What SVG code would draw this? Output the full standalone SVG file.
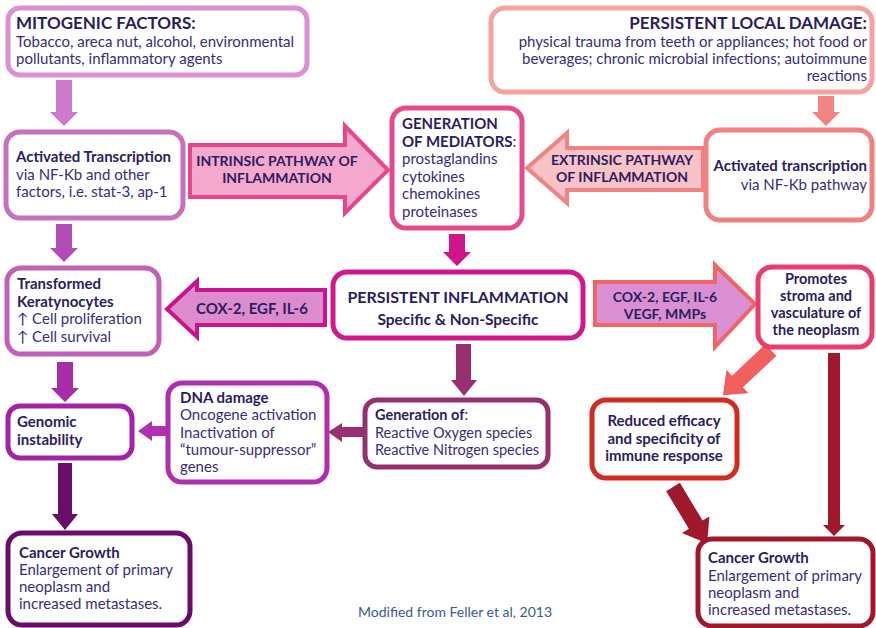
<svg xmlns="http://www.w3.org/2000/svg" width="876" height="628" viewBox="0 0 876 628">
<style>
text{font-family:Lato,"Liberation Sans",sans-serif;fill:#3a2c7a;font-size:15px}
.b{font-weight:bold;fill:#2c1c60}
.h{font-size:17px}
.box{fill:#fff;stroke-width:5}
.c{text-anchor:middle}
.e{text-anchor:end}
.lbl{font-weight:bold;fill:#2c1c60;font-size:14px;text-anchor:middle}
</style>
<rect width="876" height="628" fill="#fff"/>
<g id="connectors">
<polygon points="56,80 72,80 72,112 78,112 64,126 50,112 56,112" fill="#cc7acc"/>
<polygon points="818,96 834,96 834,112 840,112 826,126 812,112 818,112" fill="#f28484"/>
<polygon points="56,224 72,224 72,248 78,248 64,262 50,248 56,248" fill="#b24cb6"/>
<polygon points="57,362 73,362 73,388 79,388 65,402 51,388 57,388" fill="#a82ca8"/>
<polygon points="58,463 72,463 72,514 78,514 65,530 52,514 58,514" fill="#6a0c6a"/>
<polygon points="449,234 465,234 465,252 471,252 457,266 443,252 449,252" fill="#d0148c"/>
<polygon points="456,344 471,344 471,380 477,380 464,396 451,380 456,380" fill="#983070"/>
<polygon points="363,427 342,427 342,423 328,432 342,442 342,437 363,437" fill="#983070"/>
<polygon points="166,426 152,426 152,421 138,431 152,441 152,436 166,436" fill="#b030b0"/>
<polygon points="828,353 840,353 840,525 845,525 834,536 823,525 828,525" fill="#a0182c"/>
<polygon points="0,-8 46,-8 46,-16 66,0 46,16 46,8 0,8" fill="#f25f5f" transform="translate(771,350) rotate(136.8)"/>
<polygon points="0,-8 44,-8 44,-16 66,0 44,16 44,8 0,8" fill="#a0182c" transform="translate(673,487) rotate(58.9)"/>
<g id="intrinsic-arrow">
<polygon points="190,145 345,145 345,126 388,170 345,213 345,197 190,197" fill="#f4a8cc" stroke="#e8468c" stroke-width="4" stroke-linejoin="miter"/>
<text class="lbl" x="277" y="166">INTRINSIC PATHWAY OF</text>
<text class="lbl" x="277" y="183">INFLAMMATION</text>
</g>
<g id="extrinsic-arrow">
<polygon points="703,148 567,148 567,133 527,168 567,203 567,190 703,190" fill="#f8c2c6" stroke="#f08282" stroke-width="4"/>
<text class="lbl" x="622" y="165">EXTRINSIC PATHWAY</text>
<text class="lbl" x="622" y="182">OF INFLAMMATION</text>
</g>
<g id="cox-left-arrow">
<polygon points="325,290 197,290 197,281 167,309 197,337 197,325 325,325" fill="#dc8ccc" stroke="#c8148c" stroke-width="4"/>
<text class="lbl" x="252" y="314" style="font-size:15px">COX-2, EGF, IL-6</text>
</g>
<g id="cox-right-arrow">
<polygon points="595,282 715,282 715,265 755,304 715,347 715,325 595,325" fill="#d890d2" stroke="#f06464" stroke-width="4"/>
<text class="lbl" x="665" y="302">COX-2, EGF, IL-6</text>
<text class="lbl" x="665" y="319">VEGF, MMPs</text>
</g>
</g>
<g id="mitogenic">
<rect class="box" x="8" y="8" width="299" height="67" rx="12" stroke="#dc8fd4"/>
<text class="b h" x="16" y="29">MITOGENIC FACTORS:</text>
<text x="16" y="47">Tobacco, areca nut, alcohol, environmental</text>
<text x="16" y="64">pollutants, inflammatory agents</text>
</g>
<g id="local-damage">
<rect class="box" x="491" y="8" width="381" height="84" rx="14" stroke="#f5a3a0"/>
<text class="b h e" x="867" y="29">PERSISTENT LOCAL DAMAGE:</text>
<text class="e" x="867" y="47">physical trauma from teeth or appliances; hot food or</text>
<text class="e" x="867" y="64">beverages; chronic microbial infections; autoimmune</text>
<text class="e" x="867" y="81">reactions</text>
</g>
<g id="activated-left">
<rect class="box" x="6" y="132" width="177" height="86" rx="14" stroke="#c870c0"/>
<text class="b" x="16" y="162">Activated Transcription</text>
<text x="16" y="180">via NF-Kb and other</text>
<text x="16" y="197">factors, i.e. stat-3, ap-1</text>
</g>
<g id="mediators">
<rect class="box" x="392" y="108" width="130" height="120" rx="14" stroke="#e8488c"/>
<text class="b" x="402" y="129">GENERATION</text>
<text x="402" y="147"><tspan class="b">OF MEDIATORS</tspan>:</text>
<text x="402" y="164">prostaglandins</text>
<text x="402" y="182">cytokines</text>
<text x="402" y="199">chemokines</text>
<text x="402" y="217">proteinases</text>
</g>
<g id="activated-right">
<rect class="box" x="706" y="130" width="166" height="90" rx="14" stroke="#f28080"/>
<text class="b e" x="867" y="171">Activated transcription</text>
<text class="e" x="867" y="190">via NF-Kb pathway</text>
</g>
<g id="transformed">
<rect class="box" x="7" y="268" width="152" height="86" rx="14" stroke="#c060b8"/>
<text class="b" x="17" y="289">Transformed</text>
<text class="b" x="17" y="307">Keratynocytes</text>
<text x="17" y="324">↑ Cell proliferation</text>
<text x="17" y="342">↑ Cell survival</text>
</g>
<g id="persistent-inflammation">
<rect class="box" x="333" y="272" width="250" height="66" rx="14" stroke="#d4168c"/>
<text class="b c" x="458" y="303" style="font-size:16px">PERSISTENT INFLAMMATION</text>
<text class="b c" x="458" y="325" style="font-size:15.5px">Specific &amp; Non-Specific</text>
</g>
<g id="promotes">
<rect class="box" x="758" y="267" width="114" height="80" rx="14" stroke="#ec3c6c"/>
<text class="b c" x="816" y="284" style="font-size:14.5px">Promotes</text>
<text class="b c" x="816" y="301" style="font-size:14.5px">stroma and</text>
<text class="b c" x="816" y="318" style="font-size:14.5px">vasculature of</text>
<text class="b c" x="816" y="335" style="font-size:14.5px">the neoplasm</text>
</g>
<g id="genomic">
<rect class="box" x="8" y="406" width="124" height="52" rx="12" stroke="#a422a4"/>
<text class="b" x="17" y="427">Genomic</text>
<text class="b" x="17" y="445">instability</text>
</g>
<g id="dna-damage">
<rect class="box" x="168" y="383" width="159" height="99" rx="14" stroke="#b02cb0"/>
<text class="b" x="180" y="403">DNA damage</text>
<text x="180" y="420">Oncogene activation</text>
<text x="180" y="438">Inactivation of</text>
<text x="180" y="455">“tumour-suppressor”</text>
<text x="180" y="472">genes</text>
</g>
<g id="generation-of">
<rect class="box" x="365" y="400" width="183" height="67" rx="12" stroke="#983070"/>
<text x="375" y="420" style="font-size:14.5px"><tspan class="b">Generation of</tspan>:</text>
<text x="375" y="438" style="font-size:14.5px">Reactive Oxygen species</text>
<text x="375" y="455" style="font-size:14.5px">Reactive Nitrogen species</text>
</g>
<g id="reduced">
<rect class="box" x="592" y="400" width="145" height="78" rx="14" stroke="#d42a20"/>
<text class="b c" x="664" y="426">Reduced efficacy</text>
<text class="b c" x="664" y="444">and specificity of</text>
<text class="b c" x="664" y="461">immune response</text>
</g>
<g id="cancer-left">
<rect class="box" x="8" y="533" width="182" height="92" rx="14" stroke="#6a0c6a"/>
<text class="b" x="19" y="558">Cancer Growth</text>
<text x="19" y="575">Enlargement of primary</text>
<text x="19" y="592">neoplasm and</text>
<text x="19" y="609">increased metastases.</text>
</g>
<g id="cancer-right">
<rect class="box" x="698" y="539" width="175" height="87" rx="14" stroke="#a0182c"/>
<text class="b" x="708" y="563">Cancer Growth</text>
<text x="708" y="581">Enlargement of primary</text>
<text x="708" y="598">neoplasm and</text>
<text x="708" y="615">increased metastases.</text>
</g>
<text x="358" y="617" style="fill:#3a5a96;font-size:14px">Modified from Feller et al, 2013</text>
</svg>
